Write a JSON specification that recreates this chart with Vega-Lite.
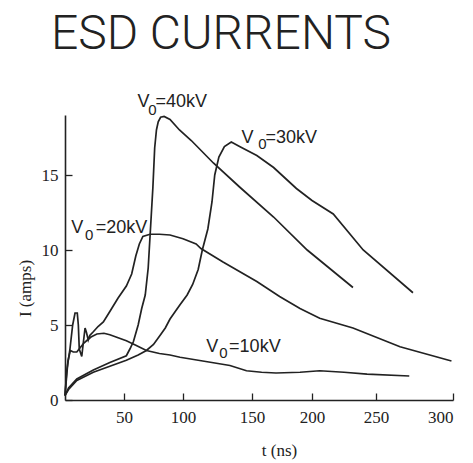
{
  "$schema": "https://vega.github.io/schema/vega-lite/v6.json",
  "width": 388,
  "height": 285,
  "autosize": "none",
  "padding": {"left": 65, "top": 115, "right": 20, "bottom": 63},
  "background": "white",
  "title": {
    "text": "ESD CURRENTS",
    "font": "Roboto",
    "fontSize": 48,
    "fontWeight": 300,
    "color": "#222",
    "anchor": "middle",
    "frame": "group",
    "dx": -38,
    "baseline": "alphabetic",
    "offset": -4
  },
  "datasets": {
    "curves": [
      {"s": "40kV", "i": 0, "t": 0, "I": 0.3},
      {"s": "40kV", "i": 1, "t": 3, "I": 0.8},
      {"s": "40kV", "i": 2, "t": 10, "I": 1.4},
      {"s": "40kV", "i": 3, "t": 24, "I": 2.0},
      {"s": "40kV", "i": 4, "t": 38, "I": 2.5},
      {"s": "40kV", "i": 5, "t": 52, "I": 2.95},
      {"s": "40kV", "i": 6, "t": 55, "I": 3.4},
      {"s": "40kV", "i": 7, "t": 58, "I": 3.9},
      {"s": "40kV", "i": 8, "t": 62, "I": 5.0},
      {"s": "40kV", "i": 9, "t": 65, "I": 6.1},
      {"s": "40kV", "i": 10, "t": 68, "I": 7.0},
      {"s": "40kV", "i": 11, "t": 70.5, "I": 8.8},
      {"s": "40kV", "i": 12, "t": 72.5, "I": 11.5},
      {"s": "40kV", "i": 13, "t": 74.5, "I": 14.2},
      {"s": "40kV", "i": 14, "t": 76, "I": 16.8},
      {"s": "40kV", "i": 15, "t": 77.5, "I": 18.0},
      {"s": "40kV", "i": 16, "t": 79, "I": 18.55},
      {"s": "40kV", "i": 17, "t": 81, "I": 18.85},
      {"s": "40kV", "i": 18, "t": 84, "I": 18.9},
      {"s": "40kV", "i": 19, "t": 89, "I": 18.7},
      {"s": "40kV", "i": 20, "t": 97, "I": 18.0},
      {"s": "40kV", "i": 21, "t": 106, "I": 17.3},
      {"s": "40kV", "i": 22, "t": 122, "I": 15.8},
      {"s": "40kV", "i": 23, "t": 141, "I": 14.2},
      {"s": "40kV", "i": 24, "t": 168, "I": 12.2},
      {"s": "40kV", "i": 25, "t": 196, "I": 10.0},
      {"s": "40kV", "i": 26, "t": 232, "I": 7.5},

      {"s": "30kV", "i": 0, "t": 0, "I": 0.3},
      {"s": "30kV", "i": 1, "t": 3, "I": 0.7},
      {"s": "30kV", "i": 2, "t": 10, "I": 1.3},
      {"s": "30kV", "i": 3, "t": 24, "I": 1.85},
      {"s": "30kV", "i": 4, "t": 38, "I": 2.25},
      {"s": "30kV", "i": 5, "t": 52, "I": 2.65},
      {"s": "30kV", "i": 6, "t": 62, "I": 3.0},
      {"s": "30kV", "i": 7, "t": 69, "I": 3.3},
      {"s": "30kV", "i": 8, "t": 75, "I": 3.7},
      {"s": "30kV", "i": 9, "t": 80.5, "I": 4.3},
      {"s": "30kV", "i": 10, "t": 85, "I": 4.8},
      {"s": "30kV", "i": 11, "t": 89, "I": 5.4},
      {"s": "30kV", "i": 12, "t": 97, "I": 6.3},
      {"s": "30kV", "i": 13, "t": 103, "I": 7.0},
      {"s": "30kV", "i": 14, "t": 107, "I": 7.7},
      {"s": "30kV", "i": 15, "t": 111, "I": 8.7},
      {"s": "30kV", "i": 16, "t": 114, "I": 10.0},
      {"s": "30kV", "i": 17, "t": 118, "I": 11.4},
      {"s": "30kV", "i": 18, "t": 121, "I": 13.2},
      {"s": "30kV", "i": 19, "t": 123, "I": 15.0},
      {"s": "30kV", "i": 20, "t": 126, "I": 16.2},
      {"s": "30kV", "i": 21, "t": 130, "I": 16.9},
      {"s": "30kV", "i": 22, "t": 135, "I": 17.2},
      {"s": "30kV", "i": 23, "t": 141, "I": 16.9},
      {"s": "30kV", "i": 24, "t": 154, "I": 16.3},
      {"s": "30kV", "i": 25, "t": 168, "I": 15.5},
      {"s": "30kV", "i": 26, "t": 187, "I": 14.1},
      {"s": "30kV", "i": 27, "t": 200, "I": 13.3},
      {"s": "30kV", "i": 28, "t": 216.6, "I": 12.4},
      {"s": "30kV", "i": 29, "t": 240, "I": 10.0},
      {"s": "30kV", "i": 30, "t": 274, "I": 7.15},

      {"s": "20kV", "i": 0, "t": 0, "I": 0.3},
      {"s": "20kV", "i": 1, "t": 1.4, "I": 1.9},
      {"s": "20kV", "i": 2, "t": 4.2, "I": 3.4},
      {"s": "20kV", "i": 3, "t": 6.5, "I": 5.0},
      {"s": "20kV", "i": 4, "t": 8.5, "I": 5.8},
      {"s": "20kV", "i": 5, "t": 10.4, "I": 5.8},
      {"s": "20kV", "i": 6, "t": 11.3, "I": 5.0},
      {"s": "20kV", "i": 7, "t": 12.1, "I": 3.4},
      {"s": "20kV", "i": 8, "t": 14.2, "I": 2.9},
      {"s": "20kV", "i": 9, "t": 15.5, "I": 3.8},
      {"s": "20kV", "i": 10, "t": 17, "I": 4.8},
      {"s": "20kV", "i": 11, "t": 18.2, "I": 4.5},
      {"s": "20kV", "i": 12, "t": 19.7, "I": 4.0},
      {"s": "20kV", "i": 13, "t": 21, "I": 4.3},
      {"s": "20kV", "i": 14, "t": 24, "I": 4.55},
      {"s": "20kV", "i": 15, "t": 28, "I": 4.9},
      {"s": "20kV", "i": 16, "t": 32.5, "I": 5.2},
      {"s": "20kV", "i": 17, "t": 38, "I": 5.9},
      {"s": "20kV", "i": 18, "t": 45, "I": 6.8},
      {"s": "20kV", "i": 19, "t": 52, "I": 7.6},
      {"s": "20kV", "i": 20, "t": 56.5, "I": 8.4},
      {"s": "20kV", "i": 21, "t": 60, "I": 9.6},
      {"s": "20kV", "i": 22, "t": 63, "I": 10.4},
      {"s": "20kV", "i": 23, "t": 66, "I": 10.9},
      {"s": "20kV", "i": 24, "t": 72, "I": 11.05},
      {"s": "20kV", "i": 25, "t": 80, "I": 11.05},
      {"s": "20kV", "i": 26, "t": 89, "I": 11.0},
      {"s": "20kV", "i": 27, "t": 100, "I": 10.75},
      {"s": "20kV", "i": 28, "t": 109.5, "I": 10.4},
      {"s": "20kV", "i": 29, "t": 113, "I": 10.1},
      {"s": "20kV", "i": 30, "t": 129, "I": 9.2},
      {"s": "20kV", "i": 31, "t": 154, "I": 7.9},
      {"s": "20kV", "i": 32, "t": 173, "I": 6.9},
      {"s": "20kV", "i": 33, "t": 190, "I": 6.1},
      {"s": "20kV", "i": 34, "t": 206, "I": 5.45},
      {"s": "20kV", "i": 35, "t": 232, "I": 4.8},
      {"s": "20kV", "i": 36, "t": 265.6, "I": 3.55},
      {"s": "20kV", "i": 37, "t": 299, "I": 2.6},

      {"s": "10kV", "i": 0, "t": 0, "I": 0.3},
      {"s": "10kV", "i": 1, "t": 2.5, "I": 2.6},
      {"s": "10kV", "i": 2, "t": 4.5, "I": 3.3},
      {"s": "10kV", "i": 3, "t": 7, "I": 3.2},
      {"s": "10kV", "i": 4, "t": 10, "I": 3.2},
      {"s": "10kV", "i": 5, "t": 13, "I": 3.5},
      {"s": "10kV", "i": 6, "t": 16, "I": 3.8},
      {"s": "10kV", "i": 7, "t": 19, "I": 4.0},
      {"s": "10kV", "i": 8, "t": 22, "I": 4.2},
      {"s": "10kV", "i": 9, "t": 27, "I": 4.4},
      {"s": "10kV", "i": 10, "t": 33, "I": 4.45},
      {"s": "10kV", "i": 11, "t": 38, "I": 4.35},
      {"s": "10kV", "i": 12, "t": 45, "I": 4.15},
      {"s": "10kV", "i": 13, "t": 52, "I": 3.95},
      {"s": "10kV", "i": 14, "t": 60, "I": 3.65},
      {"s": "10kV", "i": 15, "t": 69, "I": 3.3},
      {"s": "10kV", "i": 16, "t": 80, "I": 3.1},
      {"s": "10kV", "i": 17, "t": 89, "I": 3.0},
      {"s": "10kV", "i": 18, "t": 97.5, "I": 2.85},
      {"s": "10kV", "i": 19, "t": 117.6, "I": 2.55},
      {"s": "10kV", "i": 20, "t": 134, "I": 2.3},
      {"s": "10kV", "i": 21, "t": 146, "I": 1.95},
      {"s": "10kV", "i": 22, "t": 158, "I": 1.85},
      {"s": "10kV", "i": 23, "t": 170, "I": 1.8},
      {"s": "10kV", "i": 24, "t": 190, "I": 1.85},
      {"s": "10kV", "i": 25, "t": 206, "I": 1.95},
      {"s": "10kV", "i": 26, "t": 225, "I": 1.85},
      {"s": "10kV", "i": 27, "t": 243, "I": 1.73},
      {"s": "10kV", "i": 28, "t": 271.6, "I": 1.6}
    ],
    "labels": [
      {"s": "40kV", "part": "main", "text": "V", "t": 61.4, "I": 19.53},
      {"s": "40kV", "part": "sub", "text": "0", "t": 70.6, "I": 19.0},
      {"s": "40kV", "part": "main", "text": "=40kV", "t": 76.6, "I": 19.53},
      {"s": "30kV", "part": "main", "text": "V", "t": 142.4, "I": 17.13},
      {"s": "30kV", "part": "sub", "text": "0", "t": 155.2, "I": 16.73},
      {"s": "30kV", "part": "main", "text": "=30kV", "t": 161.2, "I": 17.13},
      {"s": "20kV", "part": "main", "text": "V", "t": 5.2, "I": 11.13},
      {"s": "20kV", "part": "sub", "text": "0", "t": 17, "I": 10.67},
      {"s": "20kV", "part": "main", "text": "=20kV", "t": 26, "I": 11.13},
      {"s": "10kV", "part": "main", "text": "V", "t": 116.8, "I": 3.22},
      {"s": "10kV", "part": "sub", "text": "0", "t": 126.3, "I": 2.8},
      {"s": "10kV", "part": "main", "text": "=10kV", "t": 133.4, "I": 3.22}
    ]
  },
  "layer": [
    {
      "data": {"name": "curves"},
      "mark": {"type": "line", "stroke": "#222", "strokeWidth": 1.7, "interpolate": "linear", "clip": false},
      "encoding": {
        "x": {
          "field": "t", "type": "quantitative",
          "scale": {"domain": [0, 50, 100, 150, 200, 250, 300], "range": [0, 59, 118, 187, 247, 311, 388], "nice": false, "zero": false},
          "axis": {
            "title": "t (ns)",
            "values": [50, 100, 150, 200, 250, 300],
            "titleX": 214, "titleY": 50, "titleBaseline": "middle", "titleAlign": "center"
          }
        },
        "y": {
          "field": "I", "type": "quantitative",
          "scale": {"domain": [0, 19], "nice": false, "zero": true},
          "axis": {
            "title": "I (amps)",
            "values": [0, 5, 10, 15],
            "titleX": -40, "titleY": 173, "titleAngle": 270, "titleBaseline": "middle", "titleAlign": "center"
          }
        },
        "detail": {"field": "s"},
        "order": {"field": "i", "type": "quantitative"}
      }
    },
    {
      "data": {"name": "labels"},
      "transform": [{"filter": "datum.part == 'main'"}],
      "mark": {"type": "text", "align": "left", "baseline": "alphabetic", "font": "Liberation Sans", "fontSize": 18, "color": "#222"},
      "encoding": {
        "x": {"field": "t", "type": "quantitative"},
        "y": {"field": "I", "type": "quantitative"},
        "text": {"field": "text"}
      }
    },
    {
      "data": {"name": "labels"},
      "transform": [{"filter": "datum.part == 'sub'"}],
      "mark": {"type": "text", "align": "left", "baseline": "alphabetic", "font": "Liberation Sans", "fontSize": 15, "color": "#222"},
      "encoding": {
        "x": {"field": "t", "type": "quantitative"},
        "y": {"field": "I", "type": "quantitative"},
        "text": {"field": "text"}
      }
    }
  ],
  "config": {
    "view": {"stroke": null},
    "axis": {
      "grid": false,
      "domainColor": "#222",
      "domainWidth": 1.6,
      "tickColor": "#222",
      "tickWidth": 1.3,
      "tickSize": -7,
      "labelFont": "Liberation Serif",
      "labelFontSize": 17,
      "labelColor": "#222",
      "titleFont": "Liberation Serif",
      "titleFontSize": 17,
      "titleFontWeight": "normal",
      "titleColor": "#222"
    },
    "axisX": {"labelPadding": 16},
    "axisY": {"labelPadding": 14}
  }
}
